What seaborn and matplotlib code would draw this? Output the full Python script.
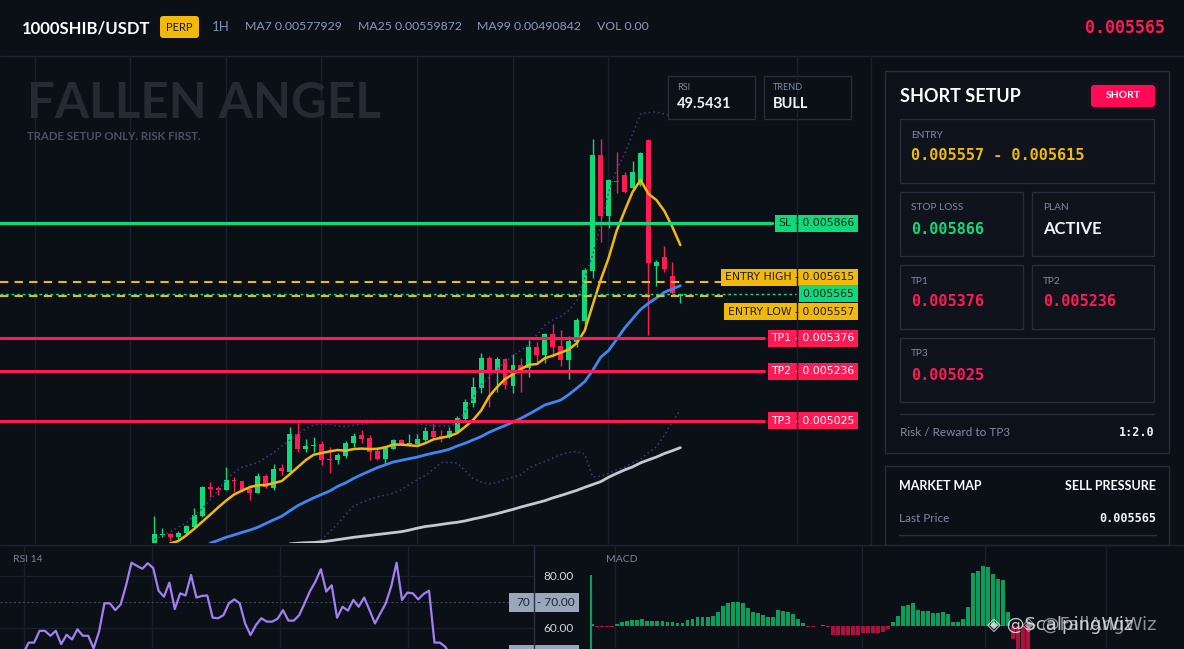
import numpy as np
import matplotlib
matplotlib.use("Agg")
import matplotlib.pyplot as plt
from matplotlib.patches import FancyBboxPatch
from matplotlib.lines import Line2D
from matplotlib.transforms import Affine2D
import seaborn as sns

# ---------------- data (prices in 1e-6 USDT) ----------------
opens = [4480, 4537, 4543, 4529, 4546, 4573, 4620, 4742, 4738, 4731,
         4772, 4768, 4733, 4718, 4789, 4738, 4822, 4808, 4968, 4904,
         4917, 4926, 4862, 4857, 4874, 4929, 4965, 4951, 4897, 4860,
         4905, 4943, 4924, 4924, 4943, 4981, 4960, 4957, 4978, 5031,
         5101, 5165, 5291, 5229, 5288, 5174, 5262, 5248, 5338, 5305,
         5394, 5343, 5283, 5361, 5451, 5664, 6157, 5897, 6045, 6072,
         6015, 6029, 6221, 5685, 5721, 5641, 5555]
highs = [4619, 4568, 4548, 4555, 4580, 4654, 4747, 4764, 4747, 4826,
         4786, 4770, 4751, 4801, 4798, 4840, 4840, 4997, 5016, 4948,
         4957, 4938, 4914, 4886, 4940, 4971, 4985, 4965, 4914, 4914,
         4946, 4945, 4968, 4967, 4999, 5014, 4985, 4999, 5045, 5117,
         5210, 5312, 5300, 5295, 5291, 5308, 5291, 5369, 5361, 5397,
         5437, 5411, 5386, 5461, 5674, 6225, 6225, 6055, 6170, 6083,
         6132, 6170, 6224, 5709, 5769, 5702, 5566]
lows = [4470, 4531, 4514, 4517, 4539, 4566, 4616, 4701, 4710, 4730,
        4721, 4721, 4687, 4718, 4737, 4730, 4795, 4808, 4890, 4893,
        4890, 4835, 4803, 4840, 4865, 4914, 4929, 4857, 4857, 4840,
        4903, 4920, 4921, 4921, 4940, 4950, 4935, 4950, 4974, 5028,
        5084, 5141, 5084, 5148, 5159, 5144, 5148, 5210, 5276, 5269,
        5297, 5258, 5202, 5340, 5411, 5634, 5787, 5844, 5994, 5994,
        6012, 6026, 5390, 5600, 5660, 5566, 5525]
closes = [4542, 4541, 4529, 4546, 4576, 4623, 4742, 4735, 4730, 4772,
          4767, 4730, 4718, 4789, 4741, 4819, 4812, 4968, 4904, 4917,
          4923, 4857, 4859, 4880, 4931, 4960, 4947, 4893, 4862, 4907,
          4943, 4924, 4929, 4946, 4981, 4957, 4950, 4981, 5038, 5103,
          5167, 5291, 5229, 5288, 5177, 5262, 5245, 5338, 5305, 5394,
          5340, 5283, 5366, 5454, 5667, 6157, 5897, 6050, 6042, 6000,
          6086, 6167, 5695, 5702, 5671, 5568, 5565]

ma7 = [None, None, 4502, 4512, 4536, 4564, 4594, 4624, 4655, 4684,
       4710, 4727, 4742, 4750, 4751, 4759, 4768, 4797, 4827, 4857,
       4880, 4887, 4894, 4900, 4897, 4904, 4906, 4904, 4905, 4912,
       4923, 4923, 4920, 4917, 4929, 4945, 4952, 4959, 4972, 4999,
       5028, 5068, 5128, 5168, 5202, 5223, 5245, 5263, 5266, 5291,
       5302, 5315, 5328, 5355, 5409, 5518, 5624, 5718, 5833, 5918,
       5999, 6050, 5991, 5965, 5918, 5850, 5773]
ma25 = [None, None, None, None, None, None, None, 4503, 4515, 4528,
        4538, 4549, 4559, 4571, 4587, 4603, 4618, 4641, 4663, 4680,
        4696, 4711, 4725, 4745, 4760, 4779, 4795, 4810, 4825, 4837,
        4849, 4856, 4863, 4870, 4879, 4887, 4894, 4903, 4917, 4929,
        4943, 4957, 4975, 4990, 5004, 5019, 5035, 5053, 5072, 5092,
        5102, 5113, 5136, 5163, 5191, 5239, 5295, 5324, 5371, 5419,
        5459, 5498, 5525, 5548, 5572, 5586, 5600]
ma99 = [None, None, None, None, None, None, None, None, None, None,
        None, None, None, None, None, None, None, 4500, 4503, 4505,
        4506, 4509, 4513, 4518, 4523, 4528, 4532, 4536, 4540, 4544,
        4548, 4552, 4559, 4567, 4574, 4578, 4583, 4588, 4592, 4598,
        4606, 4613, 4621, 4629, 4638, 4647, 4657, 4666, 4675, 4684,
        4696, 4706, 4717, 4728, 4741, 4753, 4765, 4784, 4800, 4815,
        4828, 4845, 4858, 4870, 4885, 4897, 4910]
bb_upper = [4518, 4534, 4552, 4571, 4590, 4622, 4649, 4687, 4727, 4775,
            4803, 4826, 4836, 4847, 4868, 4889, 4917, 4942, 4969, 4990,
            5007, 5009, 5009, 5002, 5000, 5006, 5010, 5014, 5016, 5018,
            5019, 5018, 5016, 5012, 5007, 5002, 5002, 5002, 5013, 5062,
            5122, 5177, 5211, 5243, 5275, 5302, 5326, 5348, 5390, 5432,
            5454, 5470, 5494, 5536, 5632, 5730, 5860, 5999, 6093, 6161,
            6246, 6331, 6338, 6340, 6331, 6323, 6314]
bb_lower = [None, None, None, None, None, None, None, None, None, None,
            None, None, None, None, None, None, None, None, None, None,
            4491, 4520, 4551, 4585, 4624, 4661, 4676, 4690, 4700, 4708,
            4716, 4731, 4753, 4774, 4791, 4817, 4847, 4847, 4845, 4811,
            4779, 4764, 4755, 4761, 4774, 4785, 4794, 4823, 4839, 4851,
            4866, 4880, 4890, 4893, 4883, 4785, 4789, 4800, 4815, 4827,
            4845, 4860, 4889, 4913, 4964, 5019, 5070]

rsi = [50.5, 54.5, 54.5, 59.0, 59.0, 57.1, 59.0, 53.9, 57.5, 55.7,
       59.6, 57.1, 57.1, 52.3, 58.7, 69.5, 69.5, 66.9, 69.1, 76.4,
       85.0, 83.8, 82.7, 84.8, 83.0, 74.3, 72.0, 77.4, 67.3, 73.3,
       72.5, 80.3, 71.7, 72.3, 72.5, 64.0, 63.8, 65.0, 69.5, 71.0,
       69.5, 61.8, 57.4, 61.2, 63.8, 62.5, 62.5, 63.6, 66.9, 62.9,
       62.9, 65.0, 69.5, 74.2, 77.8, 82.5, 74.0, 76.4, 64.0, 68.2,
       66.7, 70.8, 68.2, 71.7, 66.9, 61.8, 65.7, 69.5, 75.9, 85.0,
       70.8, 73.6, 73.3, 71.0, 73.1, 74.3, 54.5, 54.5, 52.9, 49.5431]

macd_hist = [5, -5, -5, -5, -3, 5, 11, 13, 16, 17,
             19, 14, 14, 14, 14, 12, 12, 7, 9, 17,
             21, 25, 25, 25, 29, 41, 59, 69, 71, 71,
             69, 53, 41, 38, 32, 27, 27, 47, 45, 41,
             35, 19, 7, -5, -5, -1, 2, -3, -27, -29,
             -27, -27, -27, -27, -23, -21, -21, -21, -18, -10,
             12, 29, 59, 62, 69, 47, 45, 43, 37, 39,
             41, 35, 11, 11, 20, 57, 157, 163, 179, 175,
             155, 140, 137, 42, -40, -80, -80, -80]

sl, entry_high, entry_low, last_price = 5866, 5615, 5557, 5565
tp1, tp2, tp3 = 5376, 5236, 5025
header_items = ["MA7 0.00577929", "MA25 0.00559872", "MA99 0.00490842", "VOL 0.00"]
rsi_text, trend_text, rr_text = "49.5431", "BULL", "1:2.0"


def fmt(v):
    return f"{v / 1e6:.6f}"


# ---------------- style ----------------
BG = "#0b0f16"
CARD = "#0e131c"
EDGE = "#262e3b"
GRID = "#1a202b"
GREEN = "#10d97b"
RED = "#ff1a55"
YELLOW = "#f0b90b"
MUTED = "#7d8ba3"
MONO = "DejaVu Sans Mono"

sns.set_theme(style="dark", rc={"axes.facecolor": BG, "figure.facecolor": BG,
                                "axes.grid": False})
plt.rcParams["font.family"] = ["Lato", "DejaVu Sans"]

W, H = 1184, 649
fig = plt.figure(figsize=(W / 100, H / 100), dpi=100, facecolor=BG)
PX = Affine2D().scale(1, -1).translate(0, H)   # pixel coords, y down


def px_rect(x0, y0, x1, y1):
    return [x0 / W, 1 - y1 / H, (x1 - x0) / W, (y1 - y0) / H]


def box(x0, y0, x1, y1, fc, ec="none", lw=1.0, rad=0, z=1, alpha=1.0):
    style = f"round,pad=0,rounding_size={rad}" if rad else "square,pad=0"
    fig.add_artist(FancyBboxPatch((x0, y0), x1 - x0, y1 - y0, boxstyle=style,
                                  transform=PX, fc=fc, ec=ec, lw=lw, zorder=z, alpha=alpha))


def line(x0, y0, x1, y1, color=GRID, lw=1.0, z=1, ls="-"):
    fig.add_artist(Line2D([x0, x1], [y0, y1], transform=PX, color=color, lw=lw, zorder=z, ls=ls))


def txt(x, y, s, size, color, weight="normal", ha="left", family=None, z=7, **kw):
    if family:
        kw["family"] = family
    fig.text(x, y, s, transform=PX, fontsize=size, color=color, fontweight=weight,
             ha=ha, va="center", zorder=z, **kw)


# ---------------- header ----------------
line(0, 55.5, W, 55.5, "#1e2531")
txt(22, 28, "1000SHIB/USDT", 12, "white", "bold")
box(160, 16, 199, 38, YELLOW, rad=3)
txt(179.5, 27.5, "PERP", 8, "#1b1b1b", ha="center")
txt(212, 27, "1H", 9.5, "#7f93b3")
for x, s in zip([245, 358, 477, 597], header_items):
    txt(x, 27, s, 8.8, "#8a9bb8")
txt(1165, 28, fmt(last_price), 12, RED, "bold", ha="right", family=MONO)

# ---------------- main chart ----------------
for gx in [35, 130, 226, 321, 417, 513, 608]:
    line(gx, 56, gx, 543)
line(871, 56, 871, 545)
line(796.5, 56, 796.5, 543, z=6)

txt(27, 103, "FALLEN ANGEL", 35.5, "#252a33", "bold", z=1)
txt(27, 137, "TRADE SETUP ONLY. RISK FIRST.", 8.2, "#4a5261", "bold", z=1)

ax = fig.add_axes(px_rect(0, 55, 871, 543), zorder=3)
ax.set_axis_off()
ax.set_xlim(-19.36, 89.92)
ax.set_ylim(4503.8, 6582.7)

idx = np.arange(len(opens))
o, h, l, c = (np.array(v, dtype=float) for v in (opens, highs, lows, closes))
col = np.where(c >= o, GREEN, RED)
ax.vlines(idx, l, h, colors=col, lw=1, zorder=2)
ax.bar(idx, np.maximum(np.abs(c - o), 4), bottom=np.minimum(o, c), width=0.62,
       color=col, lw=0, zorder=2)

for vals, color, lw, ls in [(bb_upper, "#463a82", 1.1, (0, (1, 2))),
                            (bb_lower, "#463a82", 1.1, (0, (1, 2))),
                            (ma99, "#c4c8d0", 2.0, "-"),
                            (ma25, "#3f86ef", 2.0, "-"),
                            (ma7, YELLOW, 1.8, "-")]:
    sns.lineplot(x=idx, y=np.array(vals, dtype=float), color=color, lw=lw,
                 linestyle=ls, ax=ax, zorder=4, legend=False)

ax.axhline(sl, 0, 772 / 871, color=GREEN, lw=2.3, zorder=5)
for tp in (tp1, tp2, tp3):
    ax.axhline(tp, 0, 764 / 871, color=RED, lw=2.2, zorder=5)
ax.axhline(entry_high, 0, 723 / 871, color=YELLOW, lw=1.5, ls=(0, (4, 3)), zorder=5)
ax.axhline(entry_low, 0, 727 / 871, color=YELLOW, lw=1.5, ls=(0, (4, 3)), zorder=5)
ax.axhline(last_price, 0, 796 / 871, color=GREEN, lw=1.0, ls=(0, (2, 2)), zorder=5)


def tag(level, text, fc, tc, x_px, ha, dy=0):
    ax.annotate(text, xy=(x_px / 871, level), xycoords=("axes fraction", "data"),
                xytext=(0, dy), textcoords="offset pixels", ha=ha, va="center",
                fontsize=7.8, color=tc, family="DejaVu Sans", zorder=6,
                bbox=dict(boxstyle="square,pad=0.32", fc=fc, ec="none"))


def level_label(level, name, fc, tc, dy=0):
    # name part left of the price scale, price part right of it
    if name:
        tag(level, name, fc, tc, 791.5, "right", dy)
        tag(level, "- " + fmt(level), fc, tc, 854.5, "right", dy)
    else:
        tag(level, fmt(level), fc, tc, 854.5, "right", dy)


level_label(sl, "SL", GREEN, "#10231a")
level_label(entry_high, "ENTRY HIGH", YELLOW, "#1d1d1d", dy=5)
level_label(last_price, None, GREEN, "#10231a")
level_label(entry_low, "ENTRY LOW", YELLOW, "#1d1d1d", dy=-16)
for name, tp in (("TP1", tp1), ("TP2", tp2), ("TP3", tp3)):
    level_label(tp, name, RED, "white")

# small info boxes
for x0, label, value in ((668, "RSI", rsi_text), (764, "TREND", trend_text)):
    box(x0, 76, x0 + 87, 119, BG, EDGE, z=5)
    txt(x0 + 9, 88, label, 6.5, MUTED)
    txt(x0 + 9, 104, value, 10.5, "#eef1f6", "bold")

# ---------------- right panel ----------------
box(885, 71, 1169, 453, "#0d121a", EDGE)
txt(900, 96, "SHORT SETUP", 13, "white", "bold")
box(1088, 82, 1158, 110, RED, rad=6, alpha=0.06, z=1)
box(1091, 85, 1155, 107, "#ff0a54", rad=3, z=2)
txt(1123, 96, "SHORT", 7.5, "white", "bold", ha="center")

cards = [((900, 119, 1154, 183), "ENTRY", fmt(entry_low) + " - " + fmt(entry_high), YELLOW, MONO),
         ((900, 192, 1023, 256), "STOP LOSS", fmt(sl), GREEN, MONO),
         ((1032, 192, 1154, 256), "PLAN", "ACTIVE", "#f2f4f8", None),
         ((900, 265, 1023, 329), "TP1", fmt(tp1), RED, MONO),
         ((1032, 265, 1154, 329), "TP2", fmt(tp2), RED, MONO),
         ((900, 338, 1154, 402), "TP3", fmt(tp3), RED, MONO)]
for (x0, y0, x1, y1), label, value, vcol, fam in cards:
    box(x0, y0, x1, y1, CARD, EDGE, z=2)
    txt(x0 + 11, y0 + 16, label, 7.3, MUTED)
    txt(x0 + 11, y0 + 37, value, 11 if fam else 12, vcol, "bold", family=fam)

line(900, 414, 1154, 414, EDGE, z=2)
txt(900, 432, "Risk / Reward to TP3", 8.5, MUTED)
txt(1155, 432, rr_text, 8.5, "#f2f4f8", "bold", ha="right", family=MONO)

box(885, 466, 1169, 545, "#0b1017", EDGE)
txt(899, 486, "MARKET MAP", 9, "white", "bold")
txt(1156, 486, "SELL PRESSURE", 9, "white", "bold", ha="right")
txt(899, 519, "Last Price", 8.5, MUTED)
txt(1156, 519, fmt(last_price), 8.5, "#f2f4f8", "bold", ha="right", family=MONO)
line(899, 535, 1156, 535, EDGE, z=2)

# ---------------- bottom panels ----------------
line(0, 545, W, 545, "#1e2531", z=4)
for gx in [24, 152, 280, 408]:
    line(gx, 546, gx, 649)
for gx in [615, 738, 862, 985, 1106]:
    line(gx, 546, gx, 649)

ax_r = fig.add_axes(px_rect(0, 545, 534, 649), zorder=3)
ax_r.set_axis_off()
ax_r.set_xlim(-4.31, 94.4)
ax_r.set_ylim(52.06, 91.76)
for lv in (80, 60):
    ax_r.axhline(lv, color=GRID, lw=1, zorder=1)
ax_r.axhline(70, color="#3a4354", lw=0.8, ls=(0, (2, 2)), zorder=1)
sns.lineplot(x=np.arange(len(rsi)), y=rsi, color="#a27ff3", lw=1.6, ax=ax_r,
             zorder=3, legend=False)
txt(13, 559, "RSI 14", 7.5, "#7b8496")
line(534, 546, 534, 649, "#2a3140", z=8)
txt(543, 576, "80.00", 8.5, "#d3d9e4")
txt(543, 628, "60.00", 8.5, "#d3d9e4")
box(509, 593, 579, 612, "#9aa6bb", z=6)
txt(530, 602.5, "70", 8.5, "#1d2431", ha="right")
txt(537, 602.5, "- 70.00", 8.5, "#1d2431")
box(509, 645, 579, 664, "#9aa6bb", z=6)   # next scale tag, cut by the frame

ax_m = fig.add_axes(px_rect(582, 545, 1184, 649), zorder=3)
ax_m.set_axis_off()
ax_m.set_xlim(-2.06, 118.1)
ax_m.set_ylim(-70, 242)
hist = np.array(macd_hist, dtype=float)
ax_m.bar(np.arange(len(hist)), hist, width=0.78, lw=0,
         color=np.where(hist >= 0, "#0b9d5c", "#b0103f"))
ax_m.vlines(-0.26, -70, 152, color="#0b9d5c", lw=1.5)
txt(606, 559, "MACD", 7.5, "#7b8496")

txt(987, 625, "\u25c8 @ScalpingWiz", 13, "#e6e6e6", family="DejaVu Sans", alpha=0.85, z=9)
txt(1022, 625, "\u25c8 @FallAngWiz", 13, "#e6e6e6", family="DejaVu Sans", alpha=0.6, z=9)

fig.savefig("out.png", dpi=100, facecolor=BG)
